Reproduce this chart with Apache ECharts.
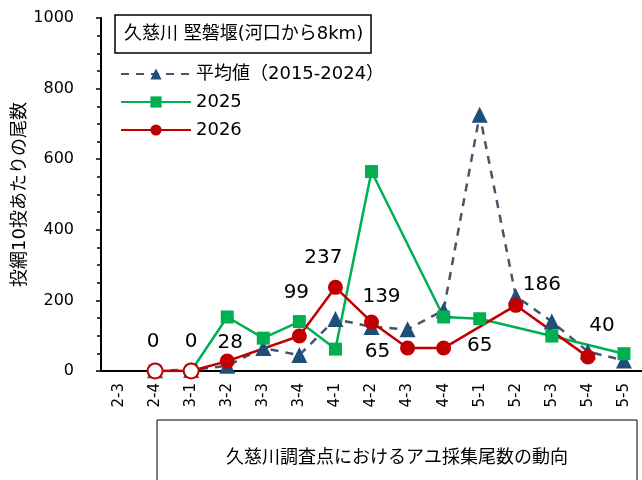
<!DOCTYPE html>
<html><head><meta charset="utf-8">
<script src="https://cdn.jsdelivr.net/npm/echarts@6/dist/echarts.min.js"></script>
<style>html,body{margin:0;padding:0;background:#fff}#c{width:642px;height:480px}</style>
</head><body><div id="c"></div>
<script>
const categories = ['2-3','2-4','3-1','3-2','3-3','3-4','4-1','4-2','4-3','4-4','5-1','5-2','5-3','5-4','5-5'];
const avg2015_2024 = [null, 2, 3, 15, 65, 45, 147, 125, 118, 172, 726, 212, 140, 55, 30];
const y2025 = [null, 0, 0, 153, 93, 140, 62, 565, null, 153, 148, null, 99, null, 49];
const y2026 = [null, 0, 0, 28, null, 99, 237, 139, 65, 65, null, 186, null, 40, null];
const yTicks = [0, 200, 400, 600, 800, 1000];
const legendTitle = '久慈川 堅磐堰(河口から8km)';
const seriesNames = ['平均値（2015-2024）', '2025', '2026'];
const caption = '久慈川調査点におけるアユ採集尾数の動向';
const yName = '投網10投あたりの尾数';

// label offsets (px) for the 2026 data labels, by category index
const labelShift = {1:[-2,-29],2:[0,-29],3:[3,-18],5:[-3,-43],6:[-12,-30],7:[10,-25],8:[-30,4],9:[36,-2],11:[26,-21],13:[14,-31]};

const FONT = 'DejaVu Sans, "Noto Sans CJK JP", sans-serif';
const RED = '#C00000', GREEN = '#00B050', NAVY = '#1F4E79', DASH = '#44546A';

const redData = y2026.map((v, i) => {
  if (v === null) return null;
  const item = { value: v };
  if (v === 0) item.itemStyle = { color: '#ffffff', borderColor: RED, borderWidth: 2 };
  const s = labelShift[i] || [0, -25];
  item.label = { offset: s };
  return item;
});

const chart = echarts.init(document.getElementById('c'), null, { renderer: 'canvas' });
chart.setOption({
  animation: false,
  textStyle: { fontFamily: FONT },
  title: {
    text: legendTitle, left: 115, top: 15,
    borderColor: '#000', borderWidth: 1.5, padding: [10, 8, 10, 9],
    textStyle: { fontSize: 18, fontWeight: 'normal', color: '#000', fontFamily: FONT }
  },
  legend: {
    orient: 'vertical', left: 115, top: 60, itemWidth: 70, itemHeight: 14, itemGap: 10,
    textStyle: { fontSize: 18, color: '#000', fontFamily: FONT },
    data: seriesNames
  },
  grid: { left: 101, right: 0, top: 18, bottom: 109, containLabel: false, outerBoundsMode: 'none' },
  xAxis: {
    type: 'category', data: categories, boundaryGap: true,
    axisLine: { lineStyle: { color: '#000', width: 2 } },
    axisTick: { alignWithLabel: true, inside: true, length: 4, lineStyle: { color: '#000', width: 1.5 } },
    axisLabel: { rotate: 90, fontSize: 15, color: '#000', margin: 12, fontFamily: FONT }
  },
  yAxis: {
    type: 'value', min: yTicks[0], max: yTicks[yTicks.length - 1], interval: 200,
    name: yName, nameLocation: 'middle', nameRotate: 90, nameGap: 72, nameMoveOverlap: false,
    nameTextStyle: { fontSize: 18, color: '#000', fontFamily: FONT },
    axisLine: { show: true, lineStyle: { color: '#000', width: 2 } },
    axisTick: { show: true, length: 5, lineStyle: { color: '#000', width: 1.5 } },
    minorTick: { show: true, splitNumber: 4, length: 4, lineStyle: { color: '#000', width: 1.5 } },
    splitLine: { show: false },
    axisLabel: { fontSize: 16, color: '#000', margin: 27, fontFamily: FONT, formatter: v => String(v) }
  },
  series: [
    {
      name: seriesNames[0], type: 'line', data: avg2015_2024, connectNulls: true,
      symbol: 'triangle', symbolSize: 16,
      lineStyle: { color: DASH, width: 2.5, type: [8, 7] },
      itemStyle: { color: NAVY }
    },
    {
      name: seriesNames[1], type: 'line', data: y2025, connectNulls: true,
      symbol: 'rect', symbolSize: 13,
      lineStyle: { color: GREEN, width: 2.5 },
      itemStyle: { color: GREEN }
    },
    {
      name: seriesNames[2], type: 'line', data: redData, connectNulls: true,
      symbol: 'circle', symbolSize: 15,
      lineStyle: { color: RED, width: 2.5 },
      itemStyle: { color: RED },
      label: { show: true, position: 'inside', fontSize: 20, color: '#000', fontFamily: FONT }
    }
  ],
  graphic: [
    { type: 'rect', shape: { x: 157, y: 420, width: 480, height: 80 },
      style: { fill: '#fff', stroke: '#000', lineWidth: 1 } },
    { type: 'text', x: 397, y: 458,
      style: { text: caption, fontSize: 18, fill: '#000', fontFamily: FONT, align: 'center', verticalAlign: 'middle' } }
  ]
});
</script></body></html>
